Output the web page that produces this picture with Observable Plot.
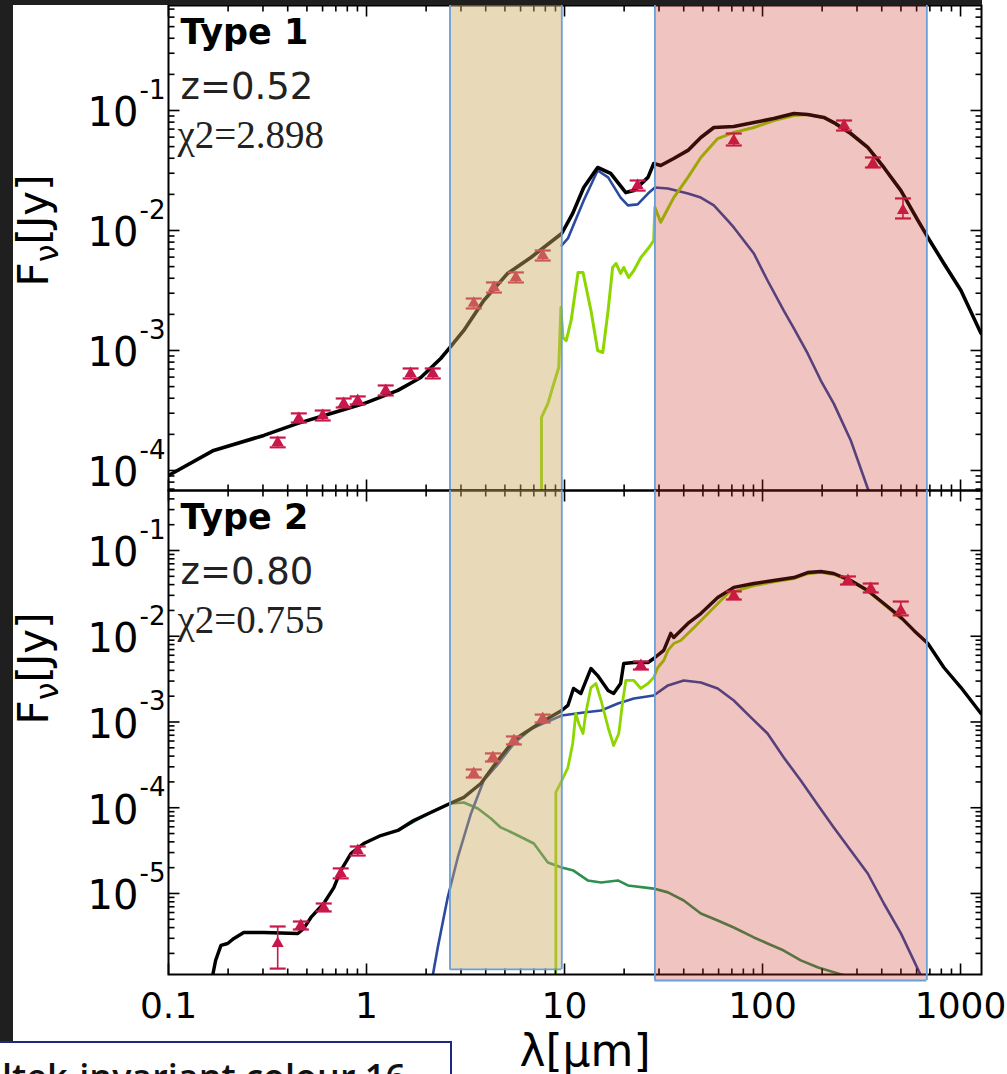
<!DOCTYPE html>
<html><head><meta charset="utf-8">
<script src="https://cdn.jsdelivr.net/npm/d3@7"></script>
<script src="https://cdn.jsdelivr.net/npm/@observablehq/plot@0.6"></script>
<style>
html,body{margin:0;padding:0;background:#fff;}
#fig{position:relative;width:1007px;height:1074px;overflow:hidden;background:#fff;}
#p1,#p2{position:absolute;left:0;}
#p1{top:0}#p2{top:490px}
.strip{position:absolute;background:#1f1f1f;}
#note{position:absolute;left:-12px;top:1041px;width:460px;height:60px;border:2px solid #1b2a80;background:#fff;overflow:hidden;}
#note span{position:absolute;left:12px;top:9px;font:600 36px 'Open Sans',sans-serif;white-space:nowrap;color:#111;}
</style></head><body>
<div id="fig"><div id="p1"></div><div id="p2"></div>
<div class="strip" style="left:0;top:0;width:13px;height:1042px"></div>
<div class="strip" style="left:0;top:0;width:982px;height:5px"></div>
<div id="note"><span>ltek-invariant colour 16</span></div>
</div>
<script>
// ---------- axes / annotations ----------
const X_DOMAIN = [0.1, 1276];
const Y1_DOMAIN = [6.81e-5, 0.75];
const Y2_DOMAIN = [1.135e-6, 0.501];
const xMajor = [0.1, 1, 10, 100, 1000];
const xLabels = ["0.1", "1", "10", "100", "1000"];
const y1Major = [1e-4, 1e-3, 1e-2, 1e-1];
const y1Exp = ["-4", "-3", "-2", "-1"];
const y2Major = [1e-5, 1e-4, 1e-3, 1e-2, 1e-1];
const y2Exp = ["-5", "-4", "-3", "-2", "-1"];
const panelTitles = ["Type 1", "Type 2"];
const redshifts = ["z=0.52", "z=0.80"];
const chi2 = ["χ2=2.898", "χ2=0.755"];
// shaded wavelength bands (µm)
const bandStart = [2.64, 28.6];
const bandEnd = [9.69, 676];
const bandBottom2 = [1.30e-6, 9.66e-7];

// ---------- Type 1 ----------
const t1TotalLam = [0.1, 0.169, 0.303, 0.450, 0.661, 0.970, 1.44, 1.88, 2.37, 2.64, 3.10, 3.91, 5.16, 6.76, 9.68, 11.0, 12.5, 14.7, 17.1, 20.4, 22.4, 26.4, 28.2, 30.6, 35.6, 42.0, 48.8, 56.8, 71.6, 90.4, 114, 144, 169, 204, 229, 279, 340, 410, 500, 610, 684, 824, 1005, 1268];
const t1TotalFlux = [9.08e-5, 1.47e-4, 1.96e-4, 2.47e-4, 2.99e-4, 3.61e-4, 4.65e-4, 5.96e-4, 8.57e-4, 1.06e-3, 1.47e-3, 2.61e-3, 4.39e-3, 5.96e-3, 9.44e-3, 1.39e-2, 2.28e-2, 3.35e-2, 2.99e-2, 2.07e-2, 2.15e-2, 2.77e-2, 3.61e-2, 3.48e-2, 3.98e-2, 4.65e-2, 5.96e-2, 7.21e-2, 7.36e-2, 7.94e-2, 8.57e-2, 9.44e-2, 9.27e-2, 8.75e-2, 7.94e-2, 6.43e-2, 4.92e-2, 3.35e-2, 2.15e-2, 1.21e-2, 8.75e-3, 5.31e-3, 3.16e-3, 1.39e-3];
const t1AgnLam = [9.68, 10.4, 12.5, 14.7, 16.6, 19.2, 20.9, 23.4, 26.4, 28.6, 33.3, 42.0, 48.8, 56.8, 66.8, 71.6, 90.4, 106, 128, 144, 169, 197, 229, 279, 340, 360];
const t1AgnFlux = [7.50e-3, 8.58e-3, 1.78e-2, 3.16e-2, 2.77e-2, 1.88e-2, 1.62e-2, 1.65e-2, 2.03e-2, 2.28e-2, 2.24e-2, 2.03e-2, 1.88e-2, 1.62e-2, 1.21e-2, 1.06e-2, 6.43e-3, 3.83e-3, 2.15e-3, 1.53e-3, 9.44e-4, 5.62e-4, 3.61e-4, 1.78e-4, 7.08e-5, 5.5e-5];
const t1SbLam = [7.65, 7.65, 8.24, 8.83, 9.35, 9.59, 9.82, 10.2, 10.8, 11.7, 12.4, 13.6, 14.7, 15.6, 16.6, 17.5, 18.2, 19.2, 19.9, 21.1, 22.4, 24.3, 26.7, 28.2, 28.6, 30.6, 35.6, 42.0, 48.8, 59.4, 71.6, 90.4, 114, 144, 169, 204, 229, 279, 340];
const t1SbFlux = [5e-5, 2.77e-4, 3.61e-4, 5.31e-4, 7.22e-4, 2.28e-3, 1.28e-3, 1.21e-3, 1.78e-3, 4.47e-3, 4.47e-3, 2.15e-3, 1.0e-3, 9.62e-4, 2.15e-3, 4.92e-3, 5.31e-3, 4.39e-3, 4.92e-3, 4.06e-3, 4.64e-3, 5.96e-3, 7.22e-3, 8.25e-3, 1.56e-2, 1.17e-2, 1.88e-2, 2.77e-2, 4.06e-2, 5.84e-2, 6.56e-2, 7.22e-2, 8.25e-2, 9.08e-2, 9.27e-2, 8.75e-2, 7.9e-2, 6.4e-2, 4.9e-2];
const t1ObsLam = [0.356, 0.455, 0.601, 0.767, 0.903, 1.25, 1.67, 2.16, 3.48, 4.40, 5.68, 7.76, 23.4, 71.6, 258, 361, 512];
const t1ObsFlux = [1.71e-4, 2.71e-4, 2.87e-4, 3.61e-4, 3.83e-4, 4.64e-4, 6.43e-4, 6.43e-4, 2.47e-3, 3.35e-3, 4.06e-3, 6.19e-3, 2.37e-2, 5.62e-2, 7.50e-2, 3.61e-2, 1.47e-2];
const t1ObsLo = [1.56e-4, 2.51e-4, 2.61e-4, 3.35e-4, 3.55e-4, 4.22e-4, 5.85e-4, 5.85e-4, 2.24e-3, 3.04e-3, 3.69e-3, 5.62e-3, 2.15e-2, 5.11e-2, 6.81e-2, 3.35e-2, 1.26e-2];
const t1ObsHi = [1.88e-4, 2.99e-4, 3.16e-4, 3.98e-4, 4.14e-4, 5.11e-4, 7.08e-4, 7.08e-4, 2.71e-3, 3.69e-3, 4.47e-3, 6.81e-3, 2.61e-2, 6.43e-2, 8.25e-2, 4.06e-2, 1.85e-2];

// ---------- Type 2 ----------
const t2TotalLam = [0.167, 0.173, 0.184, 0.199, 0.214, 0.240, 0.303, 0.450, 0.482, 0.524, 0.608, 0.684, 0.741, 0.834, 0.968, 1.18, 1.44, 1.73, 2.11, 2.64, 3.10, 3.78, 4.60, 5.55, 6.01, 7.59, 9.68, 10.4, 11.1, 12.1, 13.6, 14.7, 16.6, 17.7, 19.2, 19.9, 22.4, 26.4, 28.2, 31.7, 34.4, 35.6, 42.0, 48.8, 59.4, 71.6, 90.4, 114, 144, 169, 197, 229, 279, 340, 410, 500, 581, 684, 824, 1005, 1268];
const t2TotalFlux = [1.1e-6, 1.66e-6, 2.48e-6, 2.61e-6, 2.99e-6, 3.51e-6, 3.51e-6, 3.42e-6, 3.91e-6, 5.25e-6, 7.64e-6, 1.17e-5, 1.85e-5, 2.92e-5, 3.83e-5, 4.74e-5, 5.43e-5, 7.10e-5, 8.81e-5, 1.12e-4, 1.32e-4, 1.92e-4, 3.56e-4, 6.08e-4, 6.96e-4, 9.87e-4, 1.36e-3, 1.56e-3, 2.46e-3, 2.15e-3, 4.21e-3, 3.48e-3, 2.33e-3, 2.15e-3, 2.81e-3, 4.81e-3, 4.94e-3, 4.94e-3, 5.50e-3, 6.83e-3, 1.08e-2, 9.66e-3, 1.41e-2, 1.84e-2, 2.83e-2, 3.71e-2, 4.12e-2, 4.47e-2, 4.84e-2, 5.53e-2, 5.69e-2, 5.39e-2, 4.47e-2, 3.42e-2, 2.41e-2, 1.66e-2, 1.17e-2, 8.22e-3, 4.32e-3, 2.52e-3, 1.26e-3];
const t2AgnLam = [2.16, 2.29, 2.57, 2.89, 3.37, 3.91, 4.60, 5.55, 6.76, 9.68, 12.5, 15.3, 18.6, 22.4, 28.2, 33.3, 40.0, 48.8, 59.4, 71.6, 87.3, 106, 128, 156, 191, 229, 279, 340, 410, 500, 631];
const t2AgnFlux = [1.1e-6, 2.34e-6, 8.98e-6, 2.63e-5, 8.57e-5, 2.08e-4, 3.2e-4, 5.6e-4, 8.3e-4, 1.19e-3, 1.29e-3, 1.36e-3, 1.64e-3, 1.88e-3, 2.04e-3, 2.67e-3, 3.05e-3, 2.89e-3, 2.46e-3, 1.78e-3, 1.13e-3, 7.34e-4, 3.85e-4, 2.08e-4, 1.06e-4, 5.89e-5, 3.17e-5, 1.71e-5, 7.64e-6, 3.42e-6, 1.1e-6];
const t2SbLam = [9.04, 9.04, 9.59, 10.4, 11.0, 11.4, 11.8, 12.4, 12.8, 13.6, 14.4, 15.3, 16.6, 17.7, 18.8, 19.7, 20.4, 22.4, 24.3, 26.4, 28.2, 29.6, 31.7, 33.3, 35.6, 38.6, 45.0, 56.8, 66.8, 90.4, 114, 144, 169, 197, 229, 279, 340, 410, 500];
const t2SbFlux = [1.0e-6, 1.51e-4, 1.97e-4, 2.94e-4, 5.61e-4, 1.26e-3, 9.61e-4, 7.34e-4, 1.26e-3, 2.52e-3, 2.81e-3, 1.78e-3, 8.63e-4, 5.32e-4, 7.34e-4, 1.78e-3, 3.05e-3, 3.05e-3, 2.46e-3, 2.81e-3, 3.30e-3, 4.32e-3, 5.21e-3, 6.83e-3, 8.22e-3, 8.91e-3, 1.26e-2, 2.16e-2, 3.16e-2, 3.9e-2, 4.3e-2, 4.7e-2, 5.35e-2, 5.55e-2, 5.25e-2, 4.4e-2, 3.35e-2, 2.35e-2, 1.6e-2];
const t2HostLam = [1.44, 2.11, 2.64, 3.10, 3.65, 4.25, 4.76, 5.55, 7.00, 8.24, 9.68, 11.1, 13.1, 15.3, 18.6, 20.9, 28.2, 33.3, 40.0, 48.8, 59.4, 71.6, 90.4, 106, 128, 156, 191, 258];
const t2HostFlux = [5.43e-5, 8.81e-5, 1.12e-4, 1.15e-4, 9.80e-5, 7.50e-5, 5.89e-5, 5.01e-5, 3.83e-5, 2.30e-5, 2.01e-5, 1.85e-5, 1.42e-5, 1.34e-5, 1.42e-5, 1.24e-5, 1.14e-5, 1.03e-5, 8.28e-6, 5.85e-6, 4.84e-6, 4.01e-6, 3.07e-6, 2.61e-6, 2.16e-6, 1.66e-6, 1.37e-6, 1.11e-6];
const t2ObsLam = [0.356, 0.466, 0.608, 0.741, 0.903, 3.48, 4.35, 5.55, 7.76, 24.3, 71.6, 270, 352, 499];
const t2ObsFlux = [2.61e-6, 4.24e-6, 6.87e-6, 1.71e-5, 3.17e-5, 2.51e-4, 3.85e-4, 6.08e-4, 1.10e-3, 4.56e-3, 2.99e-2, 4.47e-2, 3.60e-2, 2.0e-2];
const t2ObsLo = [1.33e-6, 3.80e-6, 6.17e-6, 1.50e-5, 2.77e-5, 2.25e-4, 3.46e-4, 5.47e-4, 9.86e-4, 4.09e-3, 2.68e-2, 4.01e-2, 3.24e-2, 1.75e-2];
const t2ObsHi = [4.12e-6, 4.71e-6, 7.64e-6, 1.96e-5, 3.53e-5, 2.79e-4, 4.30e-4, 6.78e-4, 1.22e-3, 5.08e-3, 3.33e-2, 4.98e-2, 4.12e-2, 2.54e-2];

// ---------- styling ----------
const C = {
  total: "#000000", agn: "#2b4aa0", sb: "#8ed600", host: "#2f8f4f", obs: "#c8174b",
  tan: "rgb(205,170,97)", red: "rgb(201,44,30)", edge: "#6a9fd6"
};
const MAJ = 11, MIN = 6;
const seg = (dx, dy) => ({draw(c) { c.moveTo(0, 0); c.lineTo(dx, dy); }});
const cap = {draw(c) { c.moveTo(-8, 0); c.lineTo(8, 0); }};
const zip = (a, b) => a.slice(0, Math.min(a.length, b.length)).map((x, i) => ({x, y: b[i]}));
function minors(domain) {
  const out = [];
  for (let e = -7; e <= 3; e++) for (let m = 2; m <= 9; m++) {
    const v = +(m * Math.pow(10, e)).toPrecision(3);
    if (v >= domain[0] && v <= domain[1]) out.push(v);
  }
  return out;
}

function tickMarks(yMaj, yMin, xMaj, xMin) {
  const st = {stroke: "black", fill: "none", strokeWidth: 1.6, r: 2};
  return [
    Plot.dot(xMaj, {x: d => d, frameAnchor: "bottom", symbol: seg(0, -MAJ), ...st}),
    Plot.dot(xMin, {x: d => d, frameAnchor: "bottom", symbol: seg(0, -MIN), ...st}),
    Plot.dot(xMaj, {x: d => d, frameAnchor: "top", symbol: seg(0, MAJ), ...st}),
    Plot.dot(xMin, {x: d => d, frameAnchor: "top", symbol: seg(0, MIN), ...st}),
    Plot.dot(yMaj, {y: d => d, frameAnchor: "left", symbol: seg(MAJ, 0), ...st}),
    Plot.dot(yMin, {y: d => d, frameAnchor: "left", symbol: seg(MIN, 0), ...st}),
    Plot.dot(yMaj, {y: d => d, frameAnchor: "right", symbol: seg(-MAJ, 0), ...st}),
    Plot.dot(yMin, {y: d => d, frameAnchor: "right", symbol: seg(-MIN, 0), ...st})
  ];
}

function buildPanel(cfg) {
  const {yDomain, height, marginBottom, comps, obs, idx, yMajor, yExp, titleDy, showX} = cfg;
  const marks = [];
  for (const c of comps) {
    marks.push(Plot.line(zip(c.lam, c.flux), {x: "x", y: "y", stroke: c.color, strokeWidth: c.width, clip: true, strokeLinejoin: "round"}));
  }
  const o = obs.lam.map((x, i) => ({x, y: obs.flux[i], lo: obs.lo[i], hi: obs.hi[i]}));
  marks.push(Plot.ruleX(o, {x: "x", y1: "lo", y2: "hi", stroke: C.obs, strokeWidth: 1.6}));
  marks.push(Plot.dot(o, {x: "x", y: "lo", symbol: cap, stroke: C.obs, fill: "none", strokeWidth: 2.2}));
  marks.push(Plot.dot(o, {x: "x", y: "hi", symbol: cap, stroke: C.obs, fill: "none", strokeWidth: 2.2}));
  marks.push(Plot.dot(o, {x: "x", y: "y", symbol: "triangle", r: 4.5, fill: C.obs, stroke: "none"}));
  marks.push(Plot.frame({stroke: "black", strokeWidth: 2}));
  marks.push(...tickMarks(yMajor, minors(yDomain), xMajor, minors(X_DOMAIN)));
  // shaded bands (overlay)
  const bandFill = [C.tan, C.red], bandOp = [0.45, 0.28];
  for (let i = 0; i < bandStart.length; i++) {
    if (idx === 0) {
      marks.push(Plot.rect([i], {x1: () => bandStart[i], x2: () => bandEnd[i], fill: bandFill[i], fillOpacity: bandOp[i]}));
      marks.push(Plot.ruleX([bandStart[i], bandEnd[i]], {x: d => d, stroke: C.edge, strokeWidth: 1.8}));
    } else {
      marks.push(Plot.rect([i], {x1: () => bandStart[i], x2: () => bandEnd[i], y1: () => bandBottom2[i], y2: () => yDomain[1], fill: bandFill[i], fillOpacity: bandOp[i]}));
      marks.push(Plot.ruleX([bandStart[i], bandEnd[i]], {x: d => d, y1: () => bandBottom2[i], y2: () => yDomain[1], stroke: C.edge, strokeWidth: 1.8}));
      marks.push(Plot.ruleY([bandBottom2[i]], {y: d => d, x1: () => bandStart[i], x2: () => bandEnd[i], stroke: C.edge, strokeWidth: 1.8}));
    }
  }
  // in-panel annotations
  marks.push(Plot.text([panelTitles[idx]], {text: d => d, frameAnchor: "top-left", dx: 12, dy: 38, lineAnchor: "bottom", textAnchor: "start", fontSize: 35, fontWeight: "bold", fontFamily: "DejaVu Sans", fill: "black"}));
  marks.push(Plot.text([redshifts[idx]], {text: d => d, frameAnchor: "top-left", dx: 12, dy: 93, lineAnchor: "bottom", textAnchor: "start", fontSize: 37, fontFamily: "DejaVu Sans", fill: "#222"}));
  marks.push(Plot.text([chi2[idx]], {text: d => d, frameAnchor: "top-left", dx: 9, dy: 142, lineAnchor: "bottom", textAnchor: "start", fontSize: 39, fontFamily: "Liberation Serif", fill: "#222"}));
  // y tick labels
  marks.push(Plot.text(yMajor, {y: d => d, frameAnchor: "left", text: () => "10", dx: -30, dy: 3, textAnchor: "end", lineAnchor: "middle", fontSize: 40, fontFamily: "DejaVu Sans", fill: "black"}));
  marks.push(Plot.text(yMajor, {y: d => d, frameAnchor: "left", text: (d, i) => yExp[i], dx: -29, dy: -20, textAnchor: "start", lineAnchor: "middle", fontSize: 26, fontFamily: "DejaVu Sans", fill: "black"}));
  // y title
  marks.push(Plot.text(["Fν[Jy]"], {text: d => d, frameAnchor: "left", rotate: -90, dx: -121, dy: titleDy, textAnchor: "middle", lineAnchor: "bottom", fontSize: 42, fontFamily: "DejaVu Sans", fill: "black"}));
  if (showX) {
    marks.push(Plot.text(xMajor, {x: d => d, frameAnchor: "bottom", text: (d, i) => xLabels[i], dy: 43, lineAnchor: "bottom", textAnchor: "middle", fontSize: 36, fontFamily: "DejaVu Sans", fill: "black"}));
    marks.push(Plot.text(["λ[μm]"], {text: d => d, frameAnchor: "bottom", dx: 10, dy: 91, lineAnchor: "bottom", textAnchor: "middle", fontSize: 44, fontFamily: "DejaVu Sans", fill: "black"}));
  }
  const svg = Plot.plot({
    width: 1007, height, marginLeft: 168, marginRight: 26, marginTop: cfg.marginTop, marginBottom,
    x: {type: "log", domain: X_DOMAIN, axis: null},
    y: {type: "log", domain: yDomain, axis: null},
    style: {background: "transparent", overflow: "visible", fontFamily: "DejaVu Sans"},
    marks
  });
  // subscript nu in the y title
  const ns = "http://www.w3.org/2000/svg";
  svg.querySelectorAll("text").forEach(t => {
    if (t.textContent === "Fν[Jy]") {
      t.textContent = "";
      const a = document.createElementNS(ns, "tspan"); a.textContent = "F";
      const b = document.createElementNS(ns, "tspan"); b.textContent = "ν"; b.setAttribute("dy", "10"); b.setAttribute("font-size", "32");
      const c = document.createElementNS(ns, "tspan"); c.textContent = "[Jy]"; c.setAttribute("dy", "-10");
      t.append(a, b, c);
    }
  });
  return svg;
}

const p1 = buildPanel({
  idx: 0, yDomain: Y1_DOMAIN, height: 491, marginTop: 5, marginBottom: 1,
  yMajor: y1Major, yExp: y1Exp, titleDy: -17.5, showX: false,
  comps: [
    {lam: t1AgnLam, flux: t1AgnFlux, color: C.agn, width: 2.6},
    {lam: t1SbLam, flux: t1SbFlux, color: C.sb, width: 3},
    {lam: t1TotalLam, flux: t1TotalFlux, color: C.total, width: 3.6}
  ],
  obs: {lam: t1ObsLam, flux: t1ObsFlux, lo: t1ObsLo, hi: t1ObsHi}
});
const p2 = buildPanel({
  idx: 1, yDomain: Y2_DOMAIN, height: 584, marginTop: 0, marginBottom: 100,
  yMajor: y2Major, yExp: y2Exp, titleDy: -64, showX: true,
  comps: [
    {lam: t2HostLam, flux: t2HostFlux, color: C.host, width: 2.6},
    {lam: t2AgnLam, flux: t2AgnFlux, color: C.agn, width: 2.6},
    {lam: t2SbLam, flux: t2SbFlux, color: C.sb, width: 2.8},
    {lam: t2TotalLam, flux: t2TotalFlux, color: C.total, width: 3.4}
  ],
  obs: {lam: t2ObsLam, flux: t2ObsFlux, lo: t2ObsLo, hi: t2ObsHi}
});
document.getElementById("p1").appendChild(p1);
document.getElementById("p2").appendChild(p2);
</script>
</body></html>
